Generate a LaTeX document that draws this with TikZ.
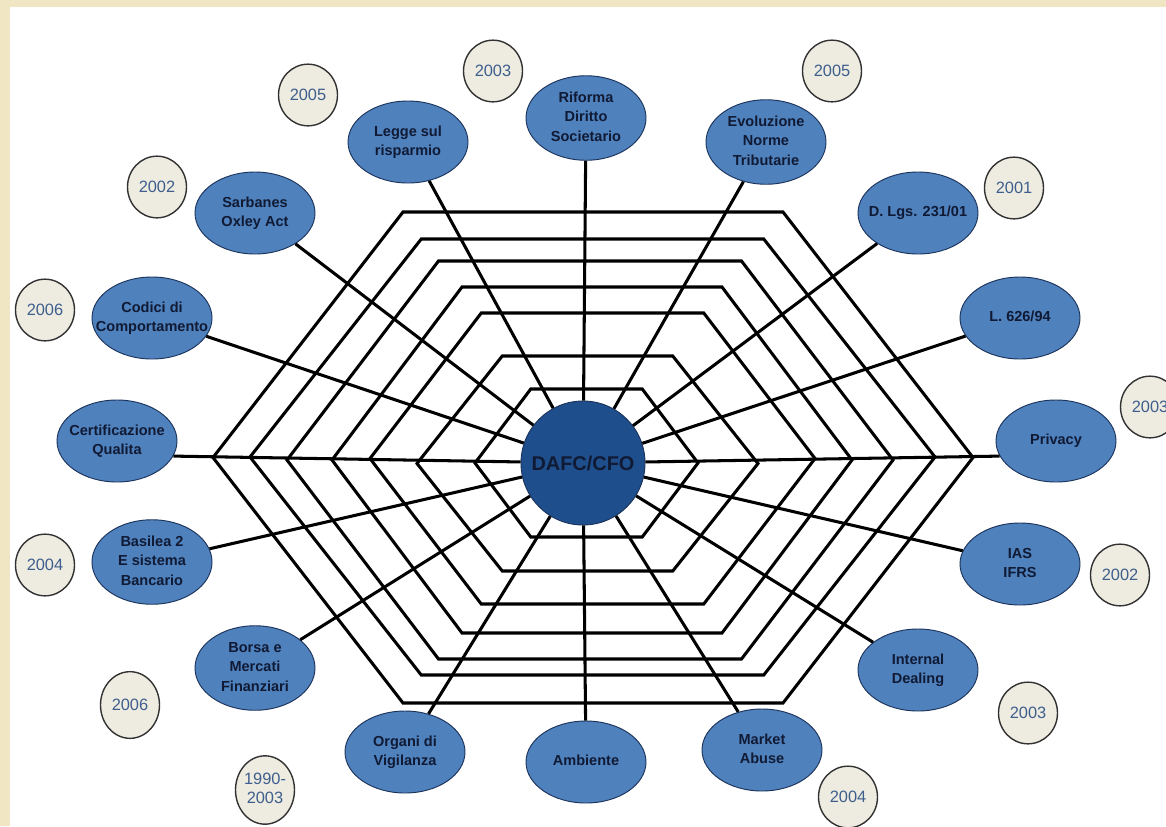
\documentclass[tikz,border=0pt]{standalone}
\usepackage{fontspec}
\setmainfont{Liberation Sans}
\usepackage{tikz}
\usetikzlibrary{shapes.geometric}

\definecolor{parchment}{RGB}{241,230,196}
\definecolor{topicblue}{RGB}{79,129,189}
\definecolor{topicline}{RGB}{28,52,92}
\definecolor{hubblue}{RGB}{31,78,140}
\definecolor{navytext}{RGB}{16,26,52}
\definecolor{yearfill}{RGB}{238,236,225}
\definecolor{yearline}{RGB}{50,50,50}
\definecolor{yeartext}{RGB}{62,94,140}

% centred label that does not widen the node
\newcommand{\lbl}[1]{\makebox[0pt]{\begin{tabular}{@{}c@{}}#1\end{tabular}}}

\begin{document}
\begin{tikzpicture}[
  x=0.03cm, y=-0.03cm,
  web/.style={line width=2.6pt},
  spoke/.style={line width=2.6pt},
  topic/.style={ellipse, draw=topicline, fill=topicblue, line width=0.8pt, minimum width=3.6cm, minimum height=2.46cm, inner sep=0pt, text=navytext, font=\bfseries\fontsize{12.4}{17}\selectfont},
  year/.style={ellipse, draw=yearline, fill=yearfill, line width=1.2pt, minimum width=1.77cm, minimum height=1.85cm, inner sep=0pt, text=yeartext, font=\fontsize{14}{17}\selectfont},
  hub/.style={circle, draw=topicline, fill=hubblue, line width=0.8pt, minimum size=3.72cm, inner sep=0pt, text=navytext, font=\bfseries\fontsize{17}{20}\selectfont}
]
% background
\fill[parchment] (0,0) rectangle (1166,826);
\fill[white] (10,7) rectangle (1166,826);
\useasboundingbox (0,0) rectangle (1166,826);

% the web
\foreach \cx/\cy/\hw/\hh in {593/457.5/380/245.5, 592.5/457/342.5/218, 590/460/303/199, 592/460/260/173, 592.5/458.5/222.5/145.5, 587.5/463.5/170.5/107.5, 586.5/463/111.5/74}
  \draw[web] ({\cx-\hw},\cy) -- ({\cx-\hw/2},{\cy-\hh}) -- ({\cx+\hw/2},{\cy-\hh}) -- ({\cx+\hw},\cy) -- ({\cx+\hw/2},{\cy+\hh}) -- ({\cx-\hw/2},{\cy+\hh}) -- cycle;

% centre
\node[hub] (dafc) at (583,463) {DAFC/CFO};

% topics
\node[topic] (riforma) at (586,118) {\lbl{Riforma\\Diritto\\Societario}};
\node[topic] (legge) at (408,142) {\lbl{Legge sul\\risparmio}};
\node[topic] (evol) at (766,142) {\lbl{Evoluzione\\Norme\\Tributarie}};
\node[topic] (sarbanes) at (255,213) {\lbl{Sarbanes\\Oxley Act}};
\node[topic] (dlgs) at (918,213) {\lbl{D. Lgs. 231/01}};
\node[topic] (codici) at (152,318) {\lbl{Codici di\\Comportamento}};
\node[topic] (l626) at (1020,318) {\lbl{L. 626/94}};
\node[topic] (certif) at (117,441) {\lbl{Certificazione\\Qualita}};
\node[topic] (privacy) at (1056,441) {\lbl{Privacy}};
\node[topic] (basilea) at (152,562) {\lbl{Basilea 2\\E sistema\\Bancario}};
\node[topic] (ias) at (1020,564) {\lbl{IAS\\IFRS}};
\node[topic] (borsa) at (255,668) {\lbl{Borsa e\\Mercati\\Finanziari}};
\node[topic] (internal) at (918,670) {\lbl{Internal\\Dealing}};
\node[topic] (organi) at (405,752) {\lbl{Organi di\\Vigilanza}};
\node[topic] (market) at (762,750) {\lbl{Market\\Abuse}};
\node[topic] (ambiente) at (586,762) {\lbl{Ambiente}};

% years
\node[year] (yLegge) at (308,95) {2005};
\node[year] (yRiforma) at (493,71) {2003};
\node[year] (yEvol) at (832,71) {2005};
\node[year] (yDlgs) at (1014,188) {2001};
\node[year] (ySarbanes) at (157,187) {2002};
\node[year] (yCodici) at (45,310) {2006};
\node[year] (yPrivacy) at (1150,407) {2003};
\node[year] (yIas) at (1120,575) {2002};
\node[year] (yInternal) at (1028,713) {2003};
\node[year] (yMarket) at (848,797) {2004};
\node[year, minimum height=2.05cm] (yOrgani) at (265,790) {\lbl{1990-\\2003}};
\node[year, minimum height=2cm] (yBorsa) at (130,705) {2006};
\node[year] (yBasilea) at (45,565) {2004};

% spokes
\foreach \t in {riforma,legge,evol,sarbanes,dlgs,codici,l626,basilea,ias,borsa,internal,organi,market,ambiente}
  \draw[spoke] (dafc) -- (\t);
\draw[spoke] (dafc) -- (certif.-15);
\draw[spoke] (dafc) -- (privacy.195);
\end{tikzpicture}
\end{document}
